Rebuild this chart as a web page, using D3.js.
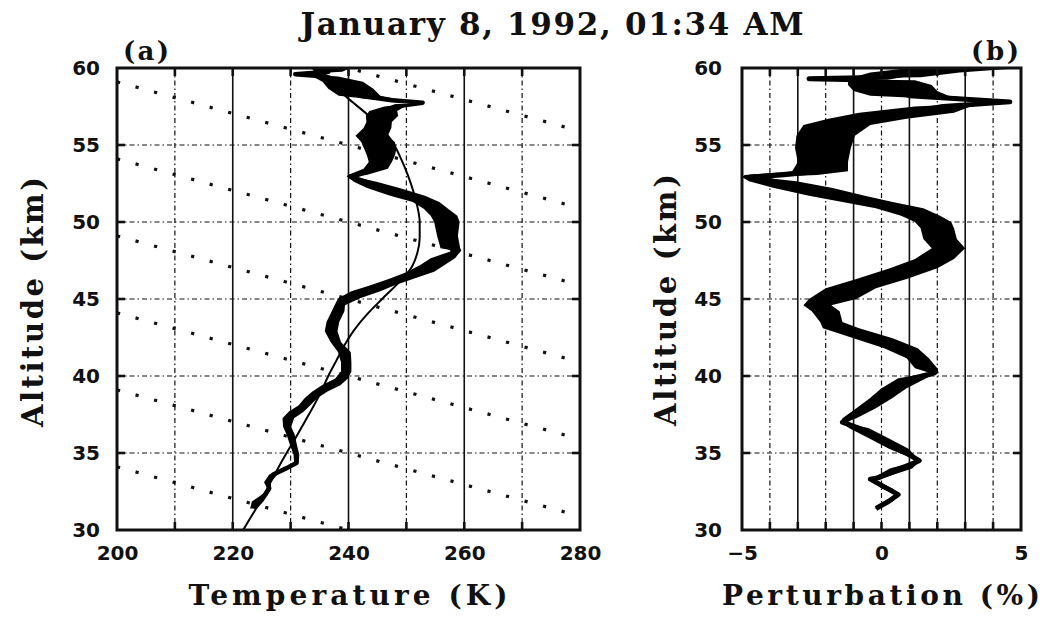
<!DOCTYPE html>
<html>
<head>
<meta charset="utf-8">
<script src="https://cdn.jsdelivr.net/npm/d3@7"></script>
<style>
  body { margin: 0; background: #fff; }
  svg { display: block; }
</style>
</head>
<body>
<svg id="chart" width="1044" height="620"></svg>
<script>
// ---- axis values ----
const altTicks = [30, 35, 40, 45, 50, 55, 60];
const altGrid = [35, 40, 45, 50, 55];
const tempTicks = [200, 220, 240, 260, 280];
const tempGrid = [210, 220, 230, 240, 250, 260, 270];
const tempSolid = [220, 240, 260];
const pertTicks = [-5, 0, 5];
const pertGrid = [-4, -3, -2, -1, 0, 1, 2, 3, 4];
const pertSolid = [-3, -1, 1, 3];

// ---- lidar temperature profile: altitude (km), temperature (K), band half-width (K) ----
const profAlt = [60.0, 59.75, 59.6, 59.45, 59.1, 58.66, 58.2, 57.9, 57.75, 57.5, 57.2, 56.9, 56.5, 56.1, 55.6, 55.2, 54.76, 54.3, 53.9, 53.46, 53.05, 52.95, 52.6, 52.2, 51.7, 51.3, 50.86, 50.4, 50.0, 49.1, 48.3, 48.15, 47.65, 47.2, 46.77, 46.35, 45.9, 45.5, 45.05, 44.6, 44.2, 43.5, 42.9, 42.2, 41.55, 40.9, 40.3, 39.84, 39.4, 38.98, 38.55, 38.1, 37.7, 37.25, 36.7, 36.2, 35.5, 34.9, 34.35, 34.0, 33.6, 33.1, 32.7, 32.3, 31.85, 31.4];
const profTemp = [237.0, 236.5, 230.8, 236.0, 239.0, 240.4, 241.9, 247.5, 252.8, 248.0, 246.0, 245.8, 245.3, 245.0, 244.0, 245.1, 245.5, 245.6, 245.5, 244.7, 241.5, 240.3, 243.0, 246.0, 250.2, 253.4, 255.1, 256.5, 257.0, 257.1, 257.6, 258.8, 256.3, 254.5, 252.5, 249.4, 245.9, 243.0, 240.1, 238.5, 238.2, 237.3, 237.0, 237.8, 239.3, 239.6, 239.6, 238.8, 237.0, 235.0, 233.5, 232.4, 231.0, 229.6, 229.4, 230.0, 230.5, 231.0, 231.0, 229.2, 227.0, 226.0, 226.3, 225.6, 224.3, 223.6];
const profErr = [3.4, 2.4, 0.4, 2.2, 3.5, 3.9, 3.6, 1.9, 0.4, 1.8, 2.4, 2.8, 2.2, 2.4, 2.8, 2.9, 2.8, 2.4, 2.0, 2.1, 1.6, 0.6, 2.0, 2.8, 3.0, 2.3, 2.1, 2.3, 2.2, 1.8, 1.7, 0.7, 2.1, 2.1, 2.3, 2.1, 2.1, 2.5, 1.9, 0.9, 1.1, 1.1, 1.1, 0.9, 1.1, 0.9, 0.9, 1.1, 1.6, 1.3, 1.1, 1.0, 1.3, 1.0, 0.7, 0.7, 0.6, 0.5, 0.4, 0.7, 0.7, 0.6, 0.3, 0.5, 1.0, 0.6];

// ---- smooth background temperature ----
const fitAlt = [30, 31, 32, 33, 34, 35, 36, 37, 38, 39, 40, 41, 42, 43, 44, 45, 46, 47, 48, 49, 50, 51, 52, 53, 54, 55, 56, 57, 58, 59, 60];
const fitTemp = [221.8, 223.4, 225.0, 226.4, 227.8, 229.3, 230.9, 232.4, 233.9, 235.3, 236.5, 237.9, 239.3, 241.0, 243.2, 245.8, 248.5, 250.8, 251.9, 252.3, 252.3, 251.9, 251.2, 250.3, 249.2, 247.9, 246.0, 243.2, 240.0, 237.1, 234.0];

// ---- dry adiabats: altitude where each crosses 200 K and 280 K ----
const adiabatAlt200 = [64.1, 59.1, 54.1, 49.1, 44.1, 39.1, 34.1];
const adiabatAlt280 = [55.9, 50.9, 45.9, 40.9, 35.9, 30.9, 25.9];

// ---- relative temperature perturbation: altitude (km), value (%), band half-width (%) ----
const pertAlt = [60.0, 59.7, 59.4, 59.3, 59.2, 58.9, 58.5, 58.2, 57.8, 57.5, 57.1, 56.7, 56.3, 55.6, 54.8, 53.9, 53.3, 53.05, 52.92, 52.65, 52.2, 51.7, 51.3, 50.9, 50.4, 50.0, 49.6, 48.9, 48.3, 47.6, 47.0, 46.3, 45.7, 45.0, 44.6, 44.2, 43.5, 43.1, 42.45, 41.8, 41.15, 40.5, 40.2, 39.85, 39.2, 38.55, 37.9, 37.25, 37.0, 36.6, 35.95, 35.3, 34.5, 34.0, 33.4, 33.3, 32.7, 32.3, 31.85, 31.4];
const pertVal = [3.0, 1.2, 0.2, -2.6, 0.0, 0.3, 0.5, 1.0, 4.6, 2.2, 0.9, -0.5, -1.6, -2.0, -2.1, -2.1, -2.2, -3.6, -4.7, -3.9, -2.8, -1.6, -0.5, 0.65, 1.4, 1.85, 2.0, 2.1, 2.4, 1.9, 1.15, 0.0, -1.1, -1.75, -2.3, -2.0, -1.8, -1.45, -0.3, 0.7, 1.3, 1.6, 1.9, 1.1, 0.45, -0.02, -0.55, -1.15, -1.4, -0.8, -0.1, 0.6, 1.35, 0.7, -0.1, -0.4, 0.2, 0.6, 0.25, -0.2];
const pertErr = [2.0, 1.6, 1.2, 0.05, 1.2, 1.5, 1.5, 1.4, 0.1, 1.0, 1.7, 1.4, 1.2, 1.05, 1.0, 0.9, 1.0, 1.3, 0.3, 0.85, 1.05, 1.0, 0.9, 0.85, 0.7, 0.65, 0.6, 0.6, 0.6, 0.7, 0.85, 0.9, 0.9, 0.85, 0.5, 0.5, 0.4, 0.65, 0.7, 0.6, 0.4, 0.4, 0.15, 0.5, 0.45, 0.4, 0.35, 0.25, 0.05, 0.35, 0.35, 0.35, 0.05, 0.4, 0.2, 0.05, 0.2, 0.05, 0.15, 0.05];

// ---- layout ----
const svg = d3.select("#chart");
const plotTop = 68, plotBottom = 530;
const aLeft = 117, aRight = 580;
const bLeft = 742, bRight = 1021;

const y = d3.scaleLinear().domain([30, 60]).range([plotBottom, plotTop]);
const xT = d3.scaleLinear().domain([200, 280]).range([aLeft, aRight]);
const xP = d3.scaleLinear().domain([-5, 5]).range([bLeft, bRight]);

const serif = "'DejaVu Serif', serif";
const sans = "'DejaVu Sans', sans-serif";
const ink = "#111";

const defs = svg.append("defs");
defs.append("clipPath").attr("id", "clipA")
  .append("rect").attr("x", aLeft).attr("y", plotTop).attr("width", aRight - aLeft).attr("height", plotBottom - plotTop);
defs.append("clipPath").attr("id", "clipB")
  .append("rect").attr("x", bLeft).attr("y", plotTop).attr("width", bRight - bLeft).attr("height", plotBottom - plotTop);

// grid helper
function drawGrid(g, xs, xVals, solidVals, x0, x1) {
  g.selectAll("line.v").data(xVals).join(enter => enter.append("line").attr("class", "v"))
    .attr("x1", d => xs(d)).attr("x2", d => xs(d))
    .attr("y1", plotTop).attr("y2", plotBottom)
    .attr("stroke", ink)
    .attr("stroke-width", d => solidVals.includes(d) ? 1.6 : 1.2)
    .attr("stroke-dasharray", d => solidVals.includes(d) ? null : "5,3,1.5,3");
  g.selectAll("line.h").data(altGrid).join(enter => enter.append("line").attr("class", "h"))
    .attr("x1", x0).attr("x2", x1)
    .attr("y1", d => y(d)).attr("y2", d => y(d))
    .attr("stroke", ink).attr("stroke-width", 1.2)
    .attr("stroke-dasharray", "5,3,1.5,3");
}

function drawFrameTicks(g, xs, xVals, x0, x1) {
  const L = 8;
  xVals.forEach(v => {
    g.append("line").attr("x1", xs(v)).attr("x2", xs(v)).attr("y1", plotBottom).attr("y2", plotBottom - L)
      .attr("stroke", ink).attr("stroke-width", 2.6);
    g.append("line").attr("x1", xs(v)).attr("x2", xs(v)).attr("y1", plotTop).attr("y2", plotTop + L)
      .attr("stroke", ink).attr("stroke-width", 2.6);
  });
  altGrid.forEach(v => {
    g.append("line").attr("x1", x0).attr("x2", x0 + L).attr("y1", y(v)).attr("y2", y(v))
      .attr("stroke", ink).attr("stroke-width", 2.6);
    g.append("line").attr("x1", x1).attr("x2", x1 - L).attr("y1", y(v)).attr("y2", y(v))
      .attr("stroke", ink).attr("stroke-width", 2.6);
  });
  g.append("rect").attr("x", x0).attr("y", plotTop).attr("width", x1 - x0).attr("height", plotBottom - plotTop)
    .attr("fill", "none").attr("stroke", ink).attr("stroke-width", 3);
}

function styleAxis(g) {
  g.select(".domain").remove();
  g.selectAll(".tick line").remove();
  g.selectAll("text").attr("font-family", sans).attr("font-weight", "bold")
    .attr("font-size", 20).attr("fill", ink);
}

// ---- panel (a) ----
const pa = svg.append("g");
drawGrid(pa.append("g"), xT, tempGrid, tempSolid, aLeft, aRight);

// dry adiabats as dotted lines
const adiabats = adiabatAlt200.map((z, i) => [[200, z], [280, adiabatAlt280[i]]]);
pa.append("g").attr("clip-path", "url(#clipA)")
  .selectAll("path").data(adiabats).join("path")
  .attr("d", d3.line().x(d => xT(d[0])).y(d => y(d[1])))
  .attr("fill", "none").attr("stroke", ink).attr("stroke-width", 3.2)
  .attr("stroke-dasharray", "3.2,16");

// background fit
const fitData = fitAlt.map((z, i) => ({ z, t: fitTemp[i] }));
pa.append("path").datum(fitData)
  .attr("clip-path", "url(#clipA)")
  .attr("d", d3.line().x(d => xT(d.t)).y(d => y(d.z)).curve(d3.curveMonotoneY))
  .attr("fill", "none").attr("stroke", "#000").attr("stroke-width", 2);

// measured profile band
const profData = profAlt.map((z, i) => ({ z, t: profTemp[i], e: profErr[i] }));
const gA = pa.append("g").attr("clip-path", "url(#clipA)");
gA.append("path").datum(profData)
  .attr("d", d3.area().y(d => y(d.z)).x0(d => xT(d.t - d.e)).x1(d => xT(d.t + d.e)))
  .attr("fill", "#000");
gA.append("path").datum(profData)
  .attr("d", d3.line().x(d => xT(d.t)).y(d => y(d.z)))
  .attr("fill", "none").attr("stroke", "#000").attr("stroke-width", 4.5)
  .attr("stroke-linejoin", "round");

drawFrameTicks(pa.append("g"), xT, tempGrid, aLeft, aRight);

pa.append("g").attr("transform", `translate(0,${plotBottom})`)
  .call(d3.axisBottom(xT).tickValues(tempTicks).tickSize(0).tickPadding(16))
  .call(styleAxis);
pa.append("g").attr("transform", `translate(${aLeft},0)`)
  .call(d3.axisLeft(y).tickValues(altTicks).tickSize(0).tickPadding(17))
  .call(styleAxis);

// ---- panel (b) ----
const pb = svg.append("g");
drawGrid(pb.append("g"), xP, pertGrid, pertSolid, bLeft, bRight);

const pertData = pertAlt.map((z, i) => ({ z, p: pertVal[i], e: pertErr[i] }));
const gB = pb.append("g").attr("clip-path", "url(#clipB)");
gB.append("path").datum(pertData)
  .attr("d", d3.area().y(d => y(d.z)).x0(d => xP(d.p - d.e)).x1(d => xP(d.p + d.e)))
  .attr("fill", "#000");
gB.append("path").datum(pertData)
  .attr("d", d3.line().x(d => xP(d.p)).y(d => y(d.z)))
  .attr("fill", "none").attr("stroke", "#000").attr("stroke-width", 5)
  .attr("stroke-linejoin", "round");

drawFrameTicks(pb.append("g"), xP, pertGrid, bLeft, bRight);

pb.append("g").attr("transform", `translate(0,${plotBottom})`)
  .call(d3.axisBottom(xP).tickValues(pertTicks).tickSize(0).tickPadding(16)
    .tickFormat(d => d < 0 ? "\u2212" + Math.abs(d) : String(d)))
  .call(styleAxis);
pb.append("g").attr("transform", `translate(${bLeft},0)`)
  .call(d3.axisLeft(y).tickValues(altTicks).tickSize(0).tickPadding(20))
  .call(styleAxis);

// ---- text ----
function label(txt, x, yy, size, len, rotate, anchor) {
  const t = svg.append("text")
    .attr("x", x).attr("y", yy)
    .attr("font-family", serif).attr("font-weight", "bold")
    .attr("font-size", size).attr("fill", ink)
    .attr("text-anchor", anchor || "middle")
    .text(txt);
  if (len) t.attr("textLength", len).attr("lengthAdjust", "spacing");
  if (rotate) t.attr("transform", `rotate(-90,${x},${yy})`);
  return t;
}

label("January 8, 1992, 01:34 AM", 552, 35, 31, 503);
label("(a)", 146, 60, 26, 46);
label("(b)", 995, 60, 26, 48);
label("Temperature (K)", 348, 605, 28, 319);
label("Perturbation (%)", 881, 605, 28, 318);
label("Altitude (km)", 43, 302, 29, 250, true);
label("Altitude (km)", 676, 300, 29, 252, true);
</script>
</body>
</html>
